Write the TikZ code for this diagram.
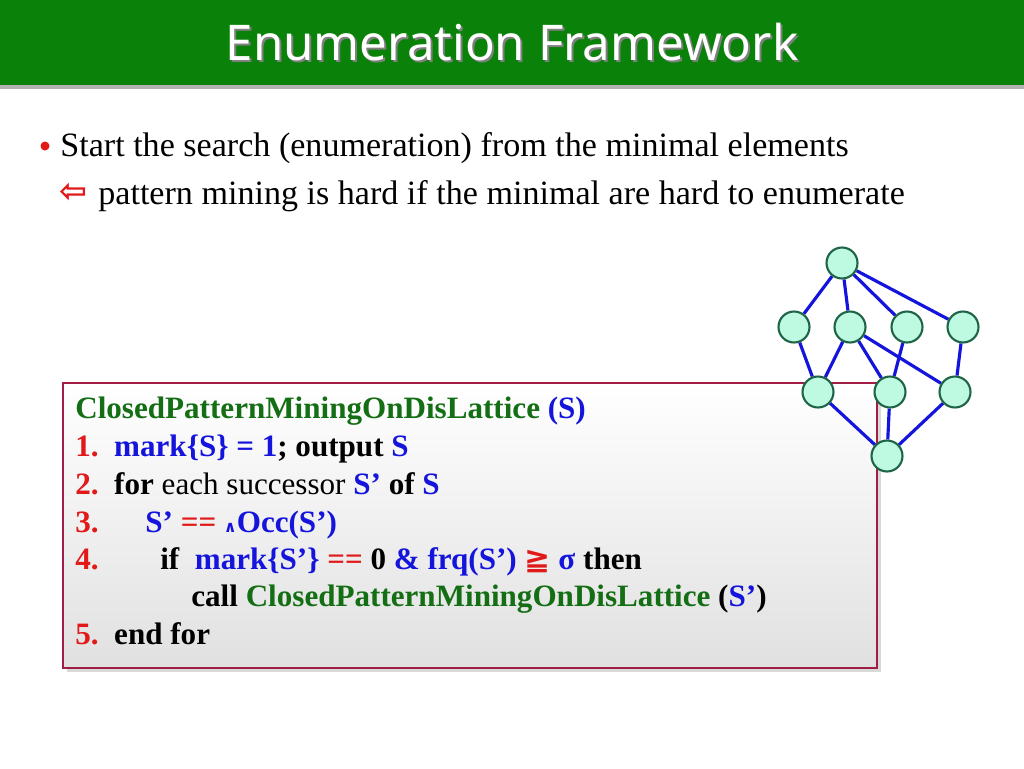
\documentclass[tikz,border=0pt]{standalone}
\usepackage{fontspec}
\setmainfont{Liberation Serif}
\newfontfamily\titlefont{Noto Sans}
\newfontfamily\symfont{DejaVu Sans}
\usetikzlibrary{shadows}
\pgfdeclarelayer{front}
\pgfsetlayers{main,front}
\definecolor{barG}{RGB}{10,130,10}
\definecolor{codeG}{RGB}{20,110,20}
\definecolor{codeB}{RGB}{20,20,220}
\definecolor{codeR}{RGB}{225,25,25}
\definecolor{boxR}{RGB}{160,30,70}
\definecolor{nodeF}{RGB}{190,250,225}
\definecolor{nodeD}{RGB}{30,100,70}
\newcommand{\gr}[1]{\textcolor{codeG}{#1}}
\newcommand{\bl}[1]{\textcolor{codeB}{#1}}
\newcommand{\nr}[1]{\textcolor{codeR}{#1}}
\begin{document}
\begin{tikzpicture}[x=0.02cm,y=-0.02cm,
  vtx/.style={circle,draw=nodeD,line width=1.2pt,fill=nodeF,minimum size=0.62cm,inner sep=0pt},
  edge/.style={draw=codeB,line width=1.8pt},
  codeline/.style={anchor=base west,inner sep=0pt,font=\fontsize{17.7}{20}\selectfont\bfseries},
  bodyline/.style={anchor=base west,inner sep=0pt,font=\fontsize{19.4}{22}\selectfont}]
\useasboundingbox (0,0) rectangle (1024,768);
% title bar
\fill[gray!60] (0,84) rectangle (1024,89);
\fill[barG] (0,0) rectangle (1024,85);
\node[text=black!50,font=\titlefont\fontsize{28}{32}\selectfont] at (514,44) {Enumeration Framework};
\node (title) [text=white,font=\titlefont\fontsize{28}{32}\selectfont] at (512,42) {Enumeration Framework};
% bullets
\fill[codeR] (45,146) circle (4.5);
\node (l1) [bodyline] at (60,156) {Start the search (enumeration) from the minimal elements};
\node (arr) [text=codeR,font=\symfont\bfseries\fontsize{19}{20}\selectfont] at (73,193) {⇦};
\node (l2) [bodyline] at (98,204) {pattern mining is hard if the minimal are hard to enumerate};
% code box
\draw[boxR,line width=1.2pt,top color=white,bottom color=black!12,drop shadow={opacity=0.3}] (63,383) rectangle (877,668);
\node (c0) [codeline] at (75,418) {\gr{ClosedPatternMiningOnDisLattice} \bl{(S)}};
\node (c1) [codeline] at (75,456) {\nr{1.}\ \ \bl{mark\{S\} = 1}; output \bl{S}};
\node (c2) [codeline] at (75,494) {\nr{2.}\ \ for \mdseries each successor \bfseries\bl{S’} of \bl{S}};
\node (c3) [codeline] at (75,532) {\nr{3.}};
\node (c3b) [codeline] at (145,532) {\bl{S’ \nr{==} {\symfont\small∧}Occ(S’)}};
\node (c4) [codeline] at (75,569) {\nr{4.}};
\node (c4b) [codeline] at (160,569) {if\ \ \bl{mark\{S’\}} \nr{==} 0 \bl{\& frq(S’)} \nr{\symfont ≧} \bl{σ} then};
\node (c5) [codeline] at (191,606) {call \gr{ClosedPatternMiningOnDisLattice} (\bl{S’})};
\node (c6) [codeline] at (75,644) {\nr{5.}\ \ end for};
% lattice
\begin{pgfonlayer}{front}
\node (t) [vtx] at (842,263) {};
\node (m1) [vtx] at (794,327) {};
\node (m2) [vtx] at (850,327) {};
\node (m3) [vtx] at (907,327) {};
\node (m4) [vtx] at (963,327) {};
\node (d1) [vtx] at (818,392) {};
\node (d2) [vtx] at (890,392) {};
\node (d3) [vtx] at (955,392) {};
\node (b) [vtx] at (887,456) {};
\end{pgfonlayer}
\foreach \u/\v in {t/m1,t/m2,t/m3,t/m4,m1/d1,m2/d1,m2/d2,m2/d3,m3/d2,m4/d3,d1/b,d2/b,d3/b}
  \draw[edge] (\u) -- (\v);
\end{tikzpicture}
\end{document}
